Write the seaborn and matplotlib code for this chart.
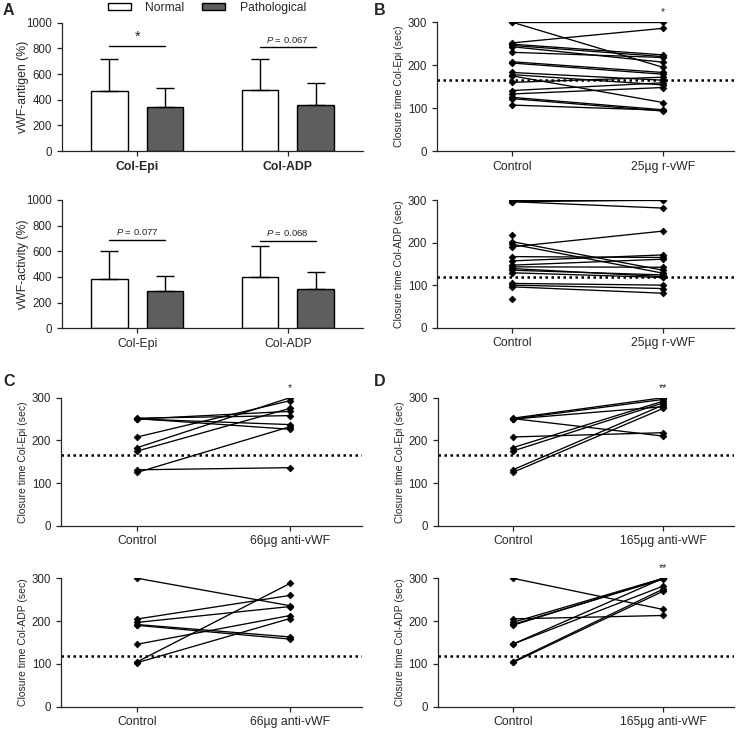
import numpy as np
import pandas as pd
import matplotlib
matplotlib.use("Agg")
import matplotlib.pyplot as plt
import seaborn as sns

# ---------------- data ----------------
a_categories = ["Col-Epi", "Col-ADP"]
a_groups = ["Normal", "Pathological"]
antigen_normal_mean = [467, 473]
antigen_normal_sd = [247, 246]
antigen_patho_mean = [343, 356]
antigen_patho_sd = [145, 171]
activity_normal_mean = [384, 403]
activity_normal_sd = [221, 239]
activity_patho_mean = [293, 304]
activity_patho_sd = [117, 132]
antigen_sig = [("*", 815), ("P = 0.067", 810)]
activity_sig = [("P = 0.077", 688), ("P = 0.068", 683)]

b_conditions = ["Control", "25\u00b5g r-vWF"]
b_epi_control = [300, 300, 252, 249, 246, 243, 230, 208, 205, 183, 178, 175, 160, 141, 133, 125, 122, 107]
b_epi_rvwf = [300, 195, 286, 224, 220, 207, 218, 183, 179, 165, 154, 113, 172, 159, 148, 96, 93, 95]
b_adp_control = [300, 296, 296, 218, 202, 196, 190, 167, 157, 147, 143, 139, 135, 129, 104, 100, 96, 67]
b_adp_rvwf = [300, 300, 281, np.nan, 135, 128, 227, 165, 171, 161, 142, 120, 124, 118, 100, 92, 81, np.nan]

c_conditions = ["Control", "66\u00b5g anti-vWF"]
c_epi_control = [252, 251, 250, 208, 183, 175, 131, 125, 250]
c_epi_anti66 = [258, 226, 237, 293, 300, 275, 136, 232, 268]
c_adp_control = [300, 205, 197, 190, 192, 146, 105, 103]
c_adp_anti66 = [236, 260, 234, 158, 163, 213, 288, 206]

d_conditions = ["Control", "165\u00b5g anti-vWF"]
d_epi_control = [252, 251, 250, 208, 183, 175, 131, 125, 250]
d_epi_anti165 = [300, 210, 279, 218, 292, 288, 283, 275, 296]
d_adp_control = [300, 205, 197, 190, 192, 146, 146, 105, 103]
d_adp_anti165 = [227, 213, 300, 300, 298, 300, 282, 275, 270]

epi_cutoff = 165
adp_cutoff = 118

# ---------------- style ----------------
sns.set_style("ticks")
plt.rcParams["font.family"] = ["Liberation Sans", "DejaVu Sans"]
plt.rcParams["mathtext.fontset"] = "custom"
plt.rcParams["mathtext.it"] = "Liberation Sans:italic"
plt.rcParams["mathtext.rm"] = "Liberation Sans"
plt.rcParams["axes.linewidth"] = 0.9
plt.rcParams["xtick.major.width"] = 0.9
plt.rcParams["ytick.major.width"] = 0.9
plt.rcParams["xtick.major.size"] = 3.5
plt.rcParams["ytick.major.size"] = 3.5
plt.rcParams["xtick.labelsize"] = 8.5
plt.rcParams["ytick.labelsize"] = 8.3

W, H = 742, 730
fig = plt.figure(figsize=(W / 100, H / 100), dpi=100)


def px_axes(left, top, right, bottom):
    return fig.add_axes([left / W, 1 - bottom / H, (right - left) / W, (bottom - top) / H])


DARK = "#5e5e5e"


def bar_panel(ax, nmean, nsd, pmean, psd, ylabel, sig, bold, show_legend=False):
    df = pd.DataFrame({
        "cat": a_categories * 2,
        "group": [a_groups[0]] * 2 + [a_groups[1]] * 2,
        "value": list(nmean) + list(pmean),
    })
    sns.barplot(data=df, x="cat", y="value", hue="group", order=a_categories,
                hue_order=a_groups, palette=["white", DARK], width=0.74, gap=0.34,
                edgecolor="black", linewidth=1.0, errorbar=None, ax=ax,
                legend=show_legend)
    sds = list(nsd) + list(psd)
    means = list(nmean) + list(pmean)
    bars = [p for p in ax.patches if p.get_height() > 0][:4]
    centers = [b.get_x() + b.get_width() / 2 for b in bars]
    for c, m, s in zip(centers, means, sds):
        ax.errorbar(c, m, yerr=[[0], [s]], fmt="none", ecolor="black",
                    elinewidth=1.0, capsize=6.5, capthick=1.0, zorder=3)
    for i, (txt, yv) in enumerate(sig):
        x0, x1 = centers[i], centers[i + 2]
        ax.plot([x0, x1], [yv, yv], color="black", lw=1.0)
        xm = (x0 + x1) / 2
        if txt == "*":
            ax.text(xm, yv + 20, "*", ha="center", va="bottom", fontsize=10.5)
        else:
            ax.text(xm, yv + 20, r"$\mathit{P}$" + txt[1:], ha="center",
                    va="bottom", fontsize=6.8)
    ax.set_xlim(-0.5, 1.5)
    ax.set_ylim(0, 1000)
    ax.set_yticks([0, 200, 400, 600, 800, 1000])
    ax.set_xlabel("")
    ax.set_ylabel(ylabel, fontsize=8.8)
    ax.yaxis.set_label_coords(-0.11, 0.5)
    for lab in ax.get_xticklabels():
        lab.set_fontweight("bold" if bold else "normal")
        lab.set_fontsize(8.8)
    sns.despine(ax=ax)


def pair_panel(ax, ctrl, treat, conds, ylabel, cutoff, star=None):
    n = len(ctrl)
    df = pd.DataFrame({
        "subject": list(range(n)) * 2,
        "x": [0] * n + [1] * n,
        "value": list(ctrl) + list(treat),
    })
    sns.lineplot(data=df, x="x", y="value", units="subject", estimator=None,
                 color="black", lw=0.95, marker="D", markersize=3.4,
                 markeredgecolor="black", markeredgewidth=0.6, ax=ax,
                 legend=False, sort=True)
    ax.axhline(cutoff, color="black", lw=1.8, ls=(0, (1, 1.4)), zorder=1)
    ax.set_xlim(-0.5, 1.47)
    ax.set_ylim(0, 300)
    ax.set_yticks([0, 100, 200, 300])
    ax.set_xticks([0, 1])
    ax.set_xticklabels(conds, fontsize=8.8)
    ax.set_xlabel("")
    ax.set_ylabel(ylabel, fontsize=7.5)
    ax.yaxis.set_label_coords(-0.11, 0.5)
    if star:
        ax.text(1, 312, star, ha="center", va="bottom", fontsize=7.5, clip_on=False)
    sns.despine(ax=ax)


# A
axA1 = px_axes(62, 22.7, 363, 151)
bar_panel(axA1, antigen_normal_mean, antigen_normal_sd, antigen_patho_mean,
          antigen_patho_sd, "vWF-antigen (%)", antigen_sig, True, show_legend=True)
handles, labels = axA1.get_legend_handles_labels()
if axA1.get_legend() is not None:
    axA1.get_legend().remove()
fig.legend(handles, labels, loc="center", bbox_to_anchor=(207 / W, 1 - 8 / H),
           ncol=2, frameon=False, fontsize=8.7, handlelength=1.9, handleheight=0.5,
           columnspacing=1.5, handletextpad=1.2)

axA2 = px_axes(62, 200, 363, 328.3)
bar_panel(axA2, activity_normal_mean, activity_normal_sd, activity_patho_mean,
          activity_patho_sd, "vWF-activity (%)", activity_sig, False)

# B
axB1 = px_axes(437, 22.3, 734, 151)
pair_panel(axB1, b_epi_control, b_epi_rvwf, b_conditions,
           "Closure time Col-Epi (sec)", epi_cutoff, star="*")
axB2 = px_axes(437, 200, 734, 327.7)
pair_panel(axB2, b_adp_control, b_adp_rvwf, b_conditions,
           "Closure time Col-ADP (sec)", adp_cutoff)

# C
axC1 = px_axes(61, 397.7, 361.7, 525.7)
pair_panel(axC1, c_epi_control, c_epi_anti66, c_conditions,
           "Closure time Col-Epi (sec)", epi_cutoff, star="*")
axC2 = px_axes(61, 578.3, 361.7, 706.7)
pair_panel(axC2, c_adp_control, c_adp_anti66, c_conditions,
           "Closure time Col-ADP (sec)", adp_cutoff)

# D
axD1 = px_axes(437.7, 397.7, 734, 525.7)
pair_panel(axD1, d_epi_control, d_epi_anti165, d_conditions,
           "Closure time Col-Epi (sec)", epi_cutoff, star="**")
axD2 = px_axes(437.7, 578.3, 734, 706.5)
pair_panel(axD2, d_adp_control, d_adp_anti165, d_conditions,
           "Closure time Col-ADP (sec)", adp_cutoff, star="**")

for letter, x, y in [("A", 3, 3), ("B", 374, 3), ("C", 3, 374), ("D", 374, 374)]:
    fig.text(x / W, 1 - y / H, letter, fontsize=11.5, fontweight="bold",
             ha="left", va="top")

fig.savefig("out.png", dpi=100)
